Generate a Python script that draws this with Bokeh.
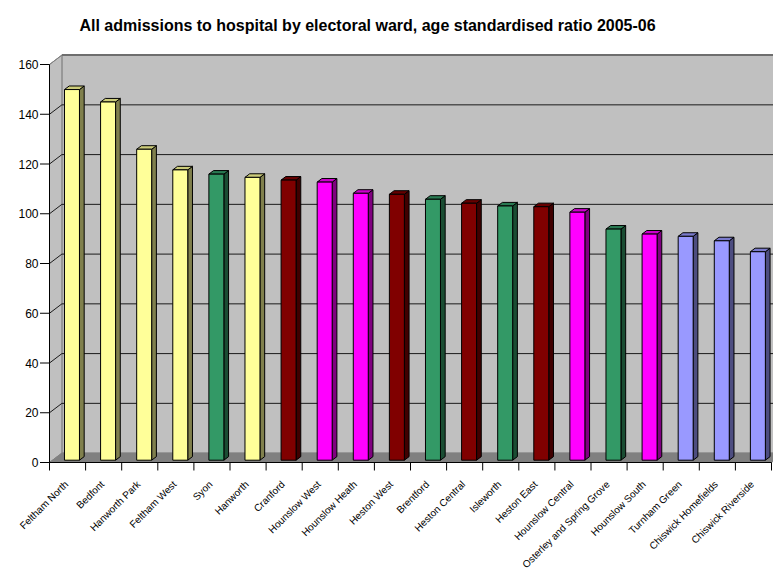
import numpy as np
from bokeh.plotting import figure
from bokeh.models import Range1d
from bokeh.core.properties import value
from bokeh.embed import file_html
from bokeh.resources import INLINE

# Age standardised ratio of all hospital admissions, by electoral ward, 2005-06
wards = ["Feltham North", "Bedfont", "Hanworth Park", "Feltham West", "Syon",
         "Hanworth", "Cranford", "Hounslow West", "Hounslow Heath", "Heston West",
         "Brentford", "Heston Central", "Isleworth", "Heston East",
         "Hounslow Central", "Osterley and Spring Grove", "Hounslow South",
         "Turnham Green", "Chiswick Homefields", "Chiswick Riverside"]
ratio = [149.0, 144.0, 125.0, 116.7, 115.0, 113.7, 112.6, 111.8, 107.3, 106.9,
         104.9, 103.3, 102.2, 101.9, 99.7, 92.9, 90.9, 90.0, 88.2, 83.8]
area = ["Feltham", "Feltham", "Feltham", "Feltham", "Isleworth", "Feltham",
        "Heston", "Hounslow", "Hounslow", "Heston", "Isleworth", "Heston",
        "Isleworth", "Heston", "Hounslow", "Isleworth", "Hounslow",
        "Chiswick", "Chiswick", "Chiswick"]
y_ticks = [0, 20, 40, 60, 80, 100, 120, 140, 160]
y_tick_labels = [str(v) for v in y_ticks]

# (front, top, side) shades for each area's columns
area_colors = {
    "Feltham":   ("#FFFF99", "#CCCC7A", "#80804D"),
    "Isleworth": ("#339966", "#297A52", "#1A4D33"),
    "Heston":    ("#800000", "#660000", "#400000"),
    "Hounslow":  ("#FF00FF", "#CC00CC", "#800080"),
    "Chiswick":  ("#9999FF", "#7A7ACC", "#4D4D80"),
}

TITLE = "All admissions to hospital by electoral ward, age standardised ratio 2005-06"
FONT = "Liberation Sans"

# page geometry (pixels)
W, H = 773, 571
ORIGIN_X, ORIGIN_Y = 49, 462   # front-left corner of the floor (ward 0, ratio 0)
CAT_PX = 36.1                  # pixel width of one ward slot
UNIT_PX = 2.4875               # pixels per ratio unit
TITLE_X, TITLE_BASE = 367, 25  # heading centre and baseline

# pseudo-3D geometry, in data units (x: one unit per ward, y: ratio units)
DEPTH_X = 12.4 / CAT_PX        # wall depth, horizontal
DEPTH_Y = 9.4 / UNIT_PX        # wall depth, vertical
BAR_FRONT = 0.245              # depth fraction where the column front face sits
BAR_DEPTH = 0.38               # column depth as a fraction of the wall depth
BAR_LEFT = 0.415
BAR_W = 0.415
X_TICK_LEN = 8 / UNIT_PX       # slot-boundary tick marks below the floor edge
LABEL_DROP = 20 / UNIT_PX      # ward names hang below the floor edge
LABEL_SHIFT = -1.2 / CAT_PX
Y_TICK_LEN = 9.5 / CAT_PX      # value-axis tick marks left of the side wall
Y_LABEL_GAP = 11 / CAT_PX

n = len(wards)
y_top = max(y_ticks)

# the frame fills the whole page, so data units map straight onto pixels
x_range = Range1d(-ORIGIN_X / CAT_PX, (W - ORIGIN_X) / CAT_PX)
y_range = Range1d(-(H - ORIGIN_Y) / UNIT_PX, ORIGIN_Y / UNIT_PX)

p = figure(width=W, height=H, output_backend="svg", toolbar_location=None,
           x_range=x_range, y_range=y_range,
           x_axis_type=None, y_axis_type=None,
           min_border=0)
p.outline_line_color = None
p.background_fill_color = "white"
p.border_fill_color = "white"
p.grid.visible = False

wall_grey = "#C0C0C0"
edge_grey = "#808080"

# back wall
p.patch([DEPTH_X, n + DEPTH_X, n + DEPTH_X, DEPTH_X],
        [DEPTH_Y, DEPTH_Y, y_top + DEPTH_Y, y_top + DEPTH_Y],
        fill_color=wall_grey, line_color=edge_grey, line_width=1)
# side wall
p.patch([0, DEPTH_X, DEPTH_X, 0],
        [0, DEPTH_Y, y_top + DEPTH_Y, y_top],
        fill_color=wall_grey, line_color=edge_grey, line_width=1)

# gridlines on back wall and side wall
grid_vals = [v for v in y_ticks if 0 < v < y_top]
p.multi_line([[DEPTH_X, n + DEPTH_X] for v in grid_vals],
             [[v + DEPTH_Y, v + DEPTH_Y] for v in grid_vals],
             line_color="#1A1A1A", line_width=1)
p.multi_line([[0, DEPTH_X] for v in grid_vals],
             [[v, v + DEPTH_Y] for v in grid_vals],
             line_color="#1A1A1A", line_width=1)
p.line([DEPTH_X, n + DEPTH_X], [y_top + DEPTH_Y, y_top + DEPTH_Y],
       line_color="#6E6E6E", line_width=2)
p.line([0, DEPTH_X], [y_top, y_top + DEPTH_Y], line_color=edge_grey, line_width=1)

# floor
p.patch([0, n, n + DEPTH_X, DEPTH_X], [0, 0, DEPTH_Y, DEPTH_Y],
        fill_color="#808080", line_color="#808080", line_width=1)

# columns: front, side and top faces
idx = np.arange(n)
vals = np.array(ratio)
x0 = idx + BAR_LEFT
x1 = x0 + BAR_W
yb = np.full(n, BAR_FRONT * DEPTH_Y)
yt = yb + vals
bdx = BAR_DEPTH * DEPTH_X
bdy = BAR_DEPTH * DEPTH_Y

front_c = [area_colors[a][0] for a in area]
top_c = [area_colors[a][1] for a in area]
side_c = [area_colors[a][2] for a in area]

front_xs = [[a, b, b, a] for a, b in zip(x0, x1)]
front_ys = [[c, c, d, d] for c, d in zip(yb, yt)]
side_xs = [[b, b + bdx, b + bdx, b] for b in x1]
side_ys = [[c, c + bdy, d + bdy, d] for c, d in zip(yb, yt)]
top_xs = [[a, b, b + bdx, a + bdx] for a, b in zip(x0, x1)]
top_ys = [[d, d, d + bdy, d + bdy] for d in yt]

p.patches(side_xs, side_ys, fill_color=side_c, line_color="black", line_width=1)
p.patches(top_xs, top_ys, fill_color=top_c, line_color="black", line_width=1)
p.patches(front_xs, front_ys, fill_color=front_c, line_color="black", line_width=1)

# ward axis: floor edge, slot boundary ticks and slanted ward names
bounds = np.arange(n + 1)
p.segment(x0=bounds, y0=np.zeros(n + 1), x1=bounds, y1=np.full(n + 1, -X_TICK_LEN),
          line_color="black", line_width=1)
p.line([0, n], [0, 0], line_color="black", line_width=1)
p.text(x=idx + 0.5 + LABEL_SHIFT, y=np.full(n, -LABEL_DROP), text=wards,
       angle=np.pi / 4, text_align="right", text_baseline="middle",
       text_font=value(FONT), text_font_size="10px", text_color="black")

# value axis: front edge of the side wall, tick marks and labels
p.line([0, 0], [0, y_top], line_color="black", line_width=1)
yt_arr = np.array(y_ticks, dtype=float)
p.segment(x0=np.full(len(y_ticks), -Y_TICK_LEN), y0=yt_arr,
          x1=np.zeros(len(y_ticks)), y1=yt_arr, line_color="black", line_width=1)
p.text(x=np.full(len(y_ticks), -Y_LABEL_GAP), y=yt_arr, text=y_tick_labels,
       text_align="right", text_baseline="middle",
       text_font=value(FONT), text_font_size="12px", text_color="black")

# chart heading
p.text(x=[(TITLE_X - ORIGIN_X) / CAT_PX], y=[(ORIGIN_Y - TITLE_BASE) / UNIT_PX],
       text=[TITLE], text_align="center", text_baseline="alphabetic",
       text_font=value(FONT), text_font_size="16px", text_font_style="bold",
       text_color="black")

open("out.html", "w").write(file_html(p, INLINE))
